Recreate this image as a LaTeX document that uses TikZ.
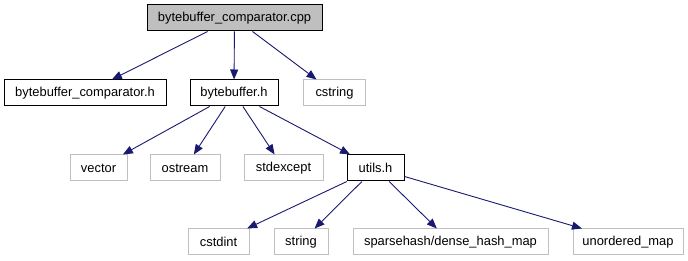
\documentclass[tikz,border=0pt]{standalone}
\usepackage{fontspec}
\setmainfont{Liberation Sans}
\usetikzlibrary{arrows.meta}
\definecolor{edgeblue}{HTML}{191970}
\definecolor{sysgray}{HTML}{BFBFBF}
\begin{document}
\begin{tikzpicture}[x=1pt,y=-1pt,
  box/.style={draw=black,line width=1pt,fill=white,rectangle,inner sep=0pt,
    minimum height=26pt,font=\fontsize{12.9}{14}\selectfont},
  sysbox/.style={box,draw=sysgray,line width=1pt},
  rootbox/.style={box,fill=sysgray},
  dep/.style={draw=edgeblue,line width=0.9pt,
    -{Triangle[length=10pt,width=8pt]}}]
\useasboundingbox (0,0) rectangle (688,261);
% header files
\node[rootbox,minimum width=175pt] (cpp) at (234.5,18) {bytebuffer\_comparator.cpp};
\node[box,minimum width=162pt] (cmph) at (85,93) {bytebuffer\_comparator.h};
\node[box,minimum width=88pt] (bbh) at (234,93) {bytebuffer.h};
\node[sysbox,minimum width=62pt] (cstring) at (334.5,93) {cstring};
\node[sysbox,minimum width=57pt] (vector) at (98.5,168) {vector};
\node[sysbox,minimum width=70pt] (ostream) at (185,168) {ostream};
\node[sysbox,minimum width=79pt] (stdexcept) at (283.5,168) {stdexcept};
\node[box,minimum width=57pt] (utils) at (375.5,168) {utils.h};
\node[sysbox,minimum width=61pt] (cstdint) at (218.5,242) {cstdint};
\node[sysbox,minimum width=54pt] (string) at (301,242) {string};
\node[sysbox,minimum width=195pt] (sparse) at (450.5,242) {sparsehash/dense\_hash\_map};
\node[sysbox,minimum width=110pt] (umap) at (628,242) {unordered\_map};
% include edges
\draw[dep] (cpp) -- (cmph);
\draw[dep] (cpp) -- (bbh);
\draw[dep] (cpp) -- (cstring);
\draw[dep] (bbh) -- (vector);
\draw[dep] (bbh) -- (ostream);
\draw[dep] (bbh) -- (stdexcept);
\draw[dep] (bbh) -- (utils);
\draw[dep] (utils) -- (cstdint);
\draw[dep] (utils) -- (string);
\draw[dep] (utils) -- (sparse);
\draw[dep] (utils) -- (umap);
\end{tikzpicture}
\end{document}
